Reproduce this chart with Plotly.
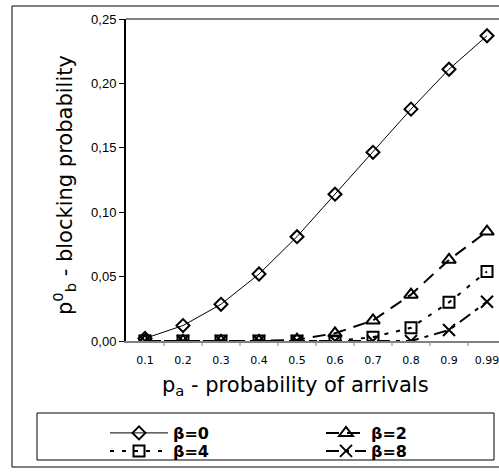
import plotly.graph_objects as go

categories = ["0.1", "0.2", "0.3", "0.4", "0.5", "0.6", "0.7", "0.8", "0.9", "0.99"]
beta0 = [0.002, 0.012, 0.0285, 0.052, 0.081, 0.114, 0.1465, 0.180, 0.211, 0.237]
beta2 = [0.0, 0.0, 0.0, 0.0, 0.001, 0.006, 0.016, 0.036, 0.063, 0.085]
beta4 = [0.0, 0.0, 0.0, 0.0, 0.0, 0.0, 0.003, 0.0103, 0.030, 0.054]
beta8 = [0.0, 0.0, 0.0, 0.0, 0.0, 0.0, 0.0, 0.0, 0.0085, 0.0305]
ytick_vals = [0, 0.05, 0.10, 0.15, 0.20, 0.25]
ytick_text = ["0,00", "0,05", "0,10", "0,15", "0,20", "0,25"]

xpos = list(range(len(categories)))
FONT = "Liberation Sans, Arial, sans-serif"
WIDE = "DejaVu Sans, Verdana, sans-serif"

fig = go.Figure()
series = [
    ("β=0", beta0, dict(width=1), dict(symbol="diamond-open", size=10, line=dict(width=2)), "legend"),
    ("β=2", beta2, dict(width=2, dash="13px,8px"), dict(symbol="triangle-up-open", size=12, line=dict(width=2)), "legend2"),
    ("β=4", beta4, dict(width=2, dash="4px,8px"), dict(symbol="square-open", size=11, line=dict(width=2)), "legend3"),
    ("β=8", beta8, dict(width=2, dash="13px,6px,4px,6px"), dict(symbol="x-thin-open", size=12, line=dict(width=2)), "legend4"),
]
for name, ys, ln, mk, lg in series:
    fig.add_trace(go.Scatter(
        x=xpos, y=ys, name=name, mode="lines+markers",
        line=dict(color="black", **ln),
        marker=dict(color="black", **mk),
        legend=lg,
    ))

def px_x(p):
    return (p - 126) / 373.0

def px_y(p):
    return (341 - p) / 322.0

def leg(x, y, w):
    return dict(
        orientation="v", yanchor="top", xanchor="left",
        x=px_x(x), y=px_y(y),
        bgcolor="rgba(0,0,0,0)", borderwidth=0,
        font=dict(family=WIDE, size=16, weight="bold", color="black"),
        tracegroupgap=0, itemwidth=w,
    )

fig.update_layout(
    width=499, height=472,
    margin=dict(l=126, r=0, t=19, b=131, autoexpand=False),
    paper_bgcolor="white", plot_bgcolor="white",
    font=dict(family=FONT, color="black"),
    showlegend=True,
    legend=leg(105, 416, 58),
    legend2=leg(321, 416, 40),
    legend3=leg(105, 434, 58),
    legend4=leg(321, 434, 40),
    xaxis=dict(
        range=[-0.5, -0.5 + 373 / 38.0],
        tickmode="array", tickvals=xpos, ticktext=categories,
        showgrid=False, zeroline=False,
        showline=True, linecolor="#808080", linewidth=2,
        ticks="", tickfont=dict(size=11, family=WIDE),
        ticklabeloverflow="allow", ticklabelstandoff=8,
        fixedrange=True,
    ),
    yaxis=dict(
        range=[0, 0.25],
        tickmode="array", tickvals=ytick_vals, ticktext=ytick_text,
        showgrid=False, zeroline=False,
        showline=True, linecolor="black", linewidth=2,
        ticks="outside", ticklen=5, tickcolor="black", tickwidth=1,
        tickfont=dict(size=13, family=FONT),
    ),
    annotations=[
        dict(text="p<sub>a</sub> - probability of arrivals", xref="paper", yref="paper",
             x=px_x(295), y=px_y(386), showarrow=False, xanchor="center", yanchor="middle",
             font=dict(size=21, family=WIDE)),
        dict(text="p<sup>0</sup><sub>b</sub> - blocking probability", xref="paper", yref="paper",
             x=px_x(64), y=px_y(185), showarrow=False, textangle=-90, xanchor="center", yanchor="middle",
             font=dict(size=21, family=WIDE)),
    ],
    shapes=[
        dict(type="rect", xref="paper", yref="paper", x0=px_x(12), x1=px_x(520), y0=px_y(467), y1=px_y(6),
             line=dict(color="black", width=1), layer="below"),
        dict(type="line", xref="paper", yref="paper", x0=0, x1=1.05, y0=1, y1=1,
             line=dict(color="#808080", width=2)),
        dict(type="rect", xref="paper", yref="paper", x0=px_x(37), x1=px_x(494), y0=px_y(460), y1=px_y(413),
             line=dict(color="black", width=1), layer="below"),
    ] + [
        dict(type="line", xref="x", yref="paper", x0=k - 0.5, x1=k - 0.5, y0=0, y1=-5 / 322.0,
             line=dict(color="#808080", width=1))
        for k in range(1, len(categories) + 1)
    ],
)

fig.write_html("out.html", config={"displayModeBar": False},
               post_script="document.body.style.margin='0px';")
